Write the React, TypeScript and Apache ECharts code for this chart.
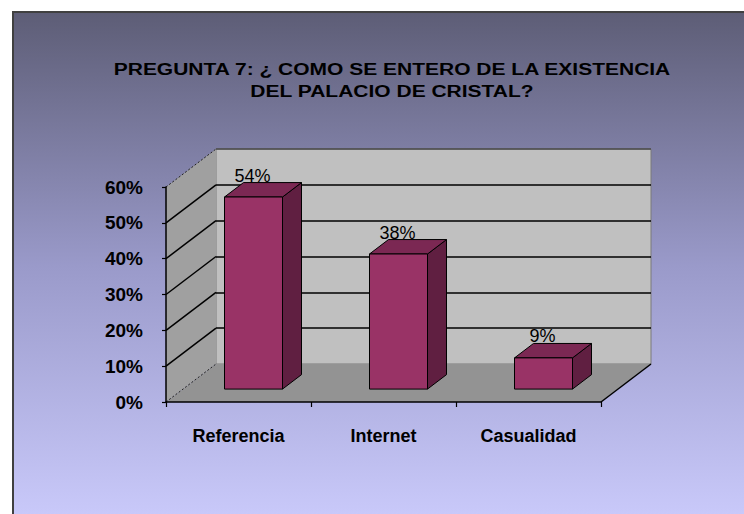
import React, { useEffect, useRef } from 'react';
import * as echarts from 'echarts';

const categories = ['Referencia', 'Internet', 'Casualidad'];
const percentages = [53.6, 37.7, 8.7];
const yTicks = [0, 10, 20, 30, 40, 50, 60];
const titleLines = ['PREGUNTA 7: ¿ COMO SE ENTERO DE LA EXISTENCIA', 'DEL PALACIO DE CRISTAL?'];

// layout constants (3D projection)
const DX = 50;
const DY = -38;
const BAR_FRONT = 0.34;
const BAR_BACK = 0.72;
const BAR_SHIFT = -2;
const FONT = 'Arial, "Liberation Sans", sans-serif';

export default function App() {
  const ref = useRef<HTMLDivElement>(null);
  useEffect(() => {
    const chart = echarts.init(ref.current!, null, { renderer: 'svg' });
    const option: any = {
      animation: false,
      backgroundColor: '#ffffff',
      graphic: [
        {
          type: 'rect',
          z: -100,
          shape: { x: 13, y: 12, width: 740, height: 510 },
          style: {
            fill: new echarts.graphic.LinearGradient(0, 0, 0, 1, [
              { offset: 0, color: '#5d5d76' },
              { offset: 0.5, color: '#9a9aca' },
              { offset: 1, color: '#cacafb' },
            ]),
            stroke: '#404040',
            lineWidth: 2,
          },
        },
        {
          type: 'text',
          z: 100,
          x: 392,
          y: 69,
          scaleX: 1.235,
          style: {
            text: titleLines[0],
            font: 'bold 17px ' + FONT,
            fill: '#000',
            textAlign: 'center',
            align: 'center',
            textVerticalAlign: 'middle',
            verticalAlign: 'middle',
          },
        },
        {
          type: 'text',
          z: 100,
          x: 392,
          y: 91,
          scaleX: 1.235,
          style: {
            text: titleLines[1],
            font: 'bold 17px ' + FONT,
            fill: '#000',
            textAlign: 'center',
            align: 'center',
            textVerticalAlign: 'middle',
            verticalAlign: 'middle',
          },
        },
      ],
      grid: [
        { left: 166, right: 143, top: 187, bottom: 112, show: false },
        {
          left: 166 + DX,
          right: 143 - DX,
          top: 187 + DY,
          bottom: 112 - DY,
          show: true,
          backgroundColor: '#c0c0c0',
          borderColor: '#7a7a7a',
          borderWidth: 1,
        },
      ],
      xAxis: [
        {
          type: 'category',
          gridIndex: 0,
          data: categories,
          z: 5,
          axisLine: { show: true, lineStyle: { color: '#000', width: 1.5 } },
          axisTick: { show: true, length: 5, lineStyle: { color: '#000', width: 1.2 } },
          axisLabel: {
            margin: 25,
            color: '#000',
            fontFamily: FONT,
            fontWeight: 'bold',
            fontSize: 18,
            lineHeight: 18,
            interval: 0,
          },
        },
        {
          type: 'category',
          gridIndex: 1,
          data: categories,
          show: false,
        },
      ],
      yAxis: [
        {
          type: 'value',
          gridIndex: 0,
          min: yTicks[0],
          max: yTicks[yTicks.length - 1],
          interval: 10,
          z: 5,
          axisLine: { show: true, lineStyle: { color: '#000', width: 1.5 } },
          axisTick: { show: true, length: 4, lineStyle: { color: '#000', width: 1.2 } },
          splitLine: { show: false },
          axisLabel: {
            margin: 23,
            formatter: '{value}%',
            color: '#000',
            fontFamily: FONT,
            fontWeight: 'bold',
            fontSize: 19,
          },
        },
        {
          type: 'value',
          gridIndex: 1,
          min: yTicks[0],
          max: yTicks[yTicks.length - 1],
          interval: 10,
          axisLine: { show: false },
          axisTick: { show: false },
          axisLabel: { show: false },
          splitLine: {
            show: true,
            lineStyle: {
              color: ['rgba(0,0,0,0)', '#000', '#000', '#000', '#000', '#000', '#4a4a4a'],
              width: 1.5,
            },
          },
        },
      ],
      series: [
        {
          type: 'custom',
          name: 'walls',
          xAxisIndex: 0,
          yAxisIndex: 0,
          clip: false,
          silent: true,
          z: 1,
          data: [[0, 0]],
          renderItem: (params: any, api: any) => {
            const cs = params.coordSys;
            const x0 = cs.x;
            const x1 = cs.x + cs.width;
            const yb = api.coord([0, yTicks[0]])[1];
            const yt = api.coord([0, yTicks[yTicks.length - 1]])[1];
            return {
              type: 'group',
              children: [
                {
                  type: 'polygon',
                  shape: { points: [[x0, yb], [x0 + DX, yb + DY], [x0 + DX, yt + DY], [x0, yt]] },
                  style: { fill: '#a0a0a0' },
                },
                {
                  type: 'polygon',
                  shape: { points: [[x0, yb], [x1, yb], [x1 + DX, yb + DY], [x0 + DX, yb + DY]] },
                  style: { fill: '#939393' },
                },
                {
                  type: 'line',
                  shape: { x1: x1, y1: yb, x2: x1 + DX, y2: yb + DY },
                  style: { stroke: '#000', lineWidth: 1.5 },
                },
              ],
            };
          },
        },
        {
          type: 'custom',
          name: 'sideGrid',
          xAxisIndex: 0,
          yAxisIndex: 0,
          clip: false,
          silent: true,
          z: 2,
          data: yTicks.map((v) => [0, v]),
          renderItem: (params: any, api: any) => {
            const cs = params.coordSys;
            const v = api.value(1);
            const y = api.coord([0, v])[1];
            const edge = v === yTicks[0] || v === yTicks[yTicks.length - 1];
            return {
              type: 'line',
              shape: { x1: cs.x, y1: y, x2: cs.x + DX, y2: y + DY },
              style: edge
                ? { stroke: '#222', lineWidth: 1, lineDash: [2, 2] }
                : { stroke: '#000', lineWidth: 1.5 },
            };
          },
        },
        {
          type: 'custom',
          name: 'bars',
          xAxisIndex: 0,
          yAxisIndex: 0,
          clip: false,
          z: 4,
          data: percentages.map((v, i) => [i, v]),
          renderItem: (params: any, api: any) => {
            const idx = api.value(0);
            const val = api.value(1);
            const band = api.size([1, 0])[0];
            const w = band * 0.4;
            const base = api.coord([idx, 0]);
            const top = api.coord([idx, val]);
            const fx = DX * BAR_FRONT + BAR_SHIFT;
            const fy = DY * BAR_FRONT;
            const ddx = DX * (BAR_BACK - BAR_FRONT);
            const ddy = DY * (BAR_BACK - BAR_FRONT);
            const L = base[0] - w / 2 + fx;
            const R = L + w;
            const B = base[1] + fy;
            const T = top[1] + fy;
            const edge = { stroke: '#000', lineWidth: 1, lineJoin: 'round' };
            return {
              type: 'group',
              children: [
                {
                  type: 'polygon',
                  shape: { points: [[R, B], [R + ddx, B + ddy], [R + ddx, T + ddy], [R, T]] },
                  style: { fill: '#601f41', ...edge },
                },
                {
                  type: 'polygon',
                  shape: { points: [[L, T], [R, T], [R + ddx, T + ddy], [L + ddx, T + ddy]] },
                  style: { fill: '#7b2853', ...edge },
                },
                {
                  type: 'rect',
                  shape: { x: L, y: T, width: w, height: B - T },
                  style: { fill: '#993366', ...edge },
                },
                {
                  type: 'text',
                  style: {
                    text: Math.round(val) + '%',
                    x: (L + R) / 2 - 1,
                    y: T + ddy - 7,
                    font: '18px ' + FONT,
                    fill: '#000',
                    textAlign: 'center',
                    align: 'center',
                    textVerticalAlign: 'middle',
                    verticalAlign: 'middle',
                  },
                },
              ],
            };
          },
        },
      ],
    };
    chart.setOption(option);
    return () => chart.dispose();
  }, []);
  return (
    <div
      ref={ref}
      style={{ position: 'fixed', left: 0, top: 0, width: 744, height: 514 }}
    />
  );
}
